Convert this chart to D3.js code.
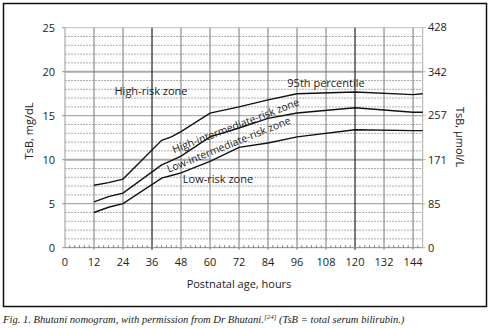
<!DOCTYPE html>
<html><head><meta charset="utf-8">
<script src="https://cdn.jsdelivr.net/npm/d3@7"></script>
<style>
body{margin:0;background:#fff;}
svg{display:block;}
text{font-family:"Open Sans","Noto Sans",sans-serif;fill:#222;}
.cap{font-family:"Liberation Serif",serif;font-style:italic;}
</style></head><body>
<svg id="c" width="490" height="328"></svg>
<script>
// ---- data ----
const hours = [12, 18, 24, 40, 44, 48, 60, 72, 84, 96, 120, 144, 148];
const p95   = [7.1, 7.4, 7.8, 12.2, 12.6, 13.2, 15.3, 16.0, 16.8, 17.5, 17.7, 17.4, 17.5];
const p75   = [5.2, 5.8, 6.2, 9.4, 9.9, 10.4, 12.6, 13.6, 14.7, 15.3, 15.9, 15.4, 15.4];
const p40   = [4.0, 4.6, 5.0, 7.9, 8.2, 8.5, 9.8, 11.4, 11.9, 12.6, 13.4, 13.3, 13.3];
const xTicks = [0, 12, 24, 36, 48, 60, 72, 84, 96, 108, 120, 132, 144];
const yTicks = [0, 5, 10, 15, 20, 25];
const umolTicks = [0, 85, 171, 257, 342, 428];
const zoneLabels = ["High-risk zone", "95th percentile", "High-intermediate-risk zone", "Low-intermediate-risk zone", "Low-risk zone"];

const svg = d3.select("#c");
const x = d3.scaleLinear().domain([0, 148]).range([65, 422.7]);
const y = d3.scaleLinear().domain([0, 25]).range([247.7, 27.7]);
const yR = d3.scaleLinear().domain([0, 25 * 17.1]).range([247.7, 27.7]);

// outer frame
svg.append("rect").attr("x", 3.5).attr("y", 3.5).attr("width", 483).attr("height", 303)
  .attr("fill", "none").attr("stroke", "#111").attr("stroke-width", 1.5);

const g = svg.append("g");
// minor dotted horizontal lines
const minor = d3.range(1, 26).filter(v => v % 5 !== 0);
g.selectAll(".mn").data(minor).join("line")
  .attr("x1", x(0)).attr("x2", x(148)).attr("y1", d => y(d)).attr("y2", d => y(d))
  .attr("stroke", "#999").attr("stroke-width", 0.8).attr("stroke-dasharray", "2,1");
// major horizontal lines
g.selectAll(".mj").data([5, 10, 15, 20, 25]).join("line")
  .attr("x1", x(0)).attr("x2", x(148)).attr("y1", d => y(d)).attr("y2", d => y(d))
  .attr("stroke", d => d === 25 ? "#ccc" : "#aaa")
  .attr("stroke-width", d => (d === 10 || d === 20) ? 2 : 1.2);
// vertical grid lines
g.selectAll(".vg").data(xTicks.filter(d => d > 0)).join("line")
  .attr("x1", d => x(d)).attr("x2", d => x(d)).attr("y1", y(25)).attr("y2", y(0) + 2)
  .attr("stroke", d => (d === 36 || d === 120) ? "#222" : "#777")
  .attr("stroke-width", d => (d === 36 || d === 120) ? 1.2 : 1);
// left and right frame lines of plot
g.append("line").attr("x1", x(0)).attr("x2", x(0)).attr("y1", y(25)).attr("y2", y(0))
  .attr("stroke", "#999").attr("stroke-width", 1);
g.append("line").attr("x1", x(148)).attr("x2", x(148)).attr("y1", y(25)).attr("y2", y(0))
  .attr("stroke", "#aaa").attr("stroke-width", 1);
// bottom axis line
g.append("line").attr("x1", x(0)).attr("x2", x(148)).attr("y1", y(0)).attr("y2", y(0))
  .attr("stroke", "#888").attr("stroke-width", 1);
// small minor ticks on bottom axis (every 2 hours)
g.selectAll(".bt").data(d3.range(2, 148, 2).filter(d => d % 12 !== 0)).join("line")
  .attr("x1", d => x(d)).attr("x2", d => x(d)).attr("y1", y(0)).attr("y2", y(0) - 2.5)
  .attr("stroke", "#666").attr("stroke-width", 0.8);
// left ticks
g.selectAll(".lt").data(yTicks).join("line")
  .attr("x1", x(0) - 3).attr("x2", x(0)).attr("y1", d => y(d)).attr("y2", d => y(d))
  .attr("stroke", "#999");
// right ticks
g.selectAll(".rt").data(umolTicks).join("line")
  .attr("x1", x(148)).attr("x2", x(148) + 3).attr("y1", d => yR(d)).attr("y2", d => yR(d))
  .attr("stroke", "#bbb");

// tick labels
g.selectAll(".xl").data(xTicks).join("text")
  .attr("x", d => x(d)).attr("y", 266).attr("text-anchor", "middle")
  .attr("font-size", 11).text(d => d);
g.selectAll(".yl").data(yTicks).join("text")
  .attr("x", 55).attr("y", d => y(d) + 4).attr("text-anchor", "end")
  .attr("font-size", 11).text(d => d);
g.selectAll(".rl").data(umolTicks).join("text")
  .attr("x", 428).attr("y", d => yR(d) + 4).attr("text-anchor", "start")
  .attr("font-size", 11).text(d => d);

// axis titles
svg.append("text").attr("transform", "translate(33,131) rotate(-90)")
  .attr("text-anchor", "middle").attr("font-size", 11).text("TsB, mg/dL");
svg.append("text").attr("transform", "translate(456,137) rotate(90)")
  .attr("text-anchor", "middle").attr("font-size", 11).text("TsB, µmol/L");
svg.append("text").attr("x", 239).attr("y", 288).attr("text-anchor", "middle")
  .attr("font-size", 11).text("Postnatal age, hours");

// curves
const line = d3.line().x(d => x(d[0])).y(d => y(d[1]));
[p95, p75, p40].forEach(s => {
  g.append("path").datum(hours.map((h, i) => [h, s[i]])).attr("d", line)
    .attr("fill", "none").attr("stroke", "#111").attr("stroke-width", 1.4);
});

// zone labels
const lab = (t, cx, cy, rot, fs) => {
  svg.append("text").attr("transform", `translate(${cx},${cy}) rotate(${rot})`)
    .attr("text-anchor", "middle").attr("font-size", fs).text(t);
};
lab(zoneLabels[0], 151, 95, 0, 11);
lab(zoneLabels[1], 326, 87, 0, 11);
lab(zoneLabels[2], 237, 129, -21, 10.4);
lab(zoneLabels[3], 230, 148, -22, 10.4);
lab(zoneLabels[4], 218, 183, 0, 11);

// caption
const cap = svg.append("text").attr("class", "cap").attr("x", 3).attr("y", 323).attr("font-size", 10.6);
cap.append("tspan").text("Fig. 1. Bhutani nomogram, with permission from Dr Bhutani.");
cap.append("tspan").attr("font-size", 7).attr("dy", -4).text("[24]");
cap.append("tspan").attr("dy", 4).text(" (TsB = total serum bilirubin.)");
</script>
</body></html>
